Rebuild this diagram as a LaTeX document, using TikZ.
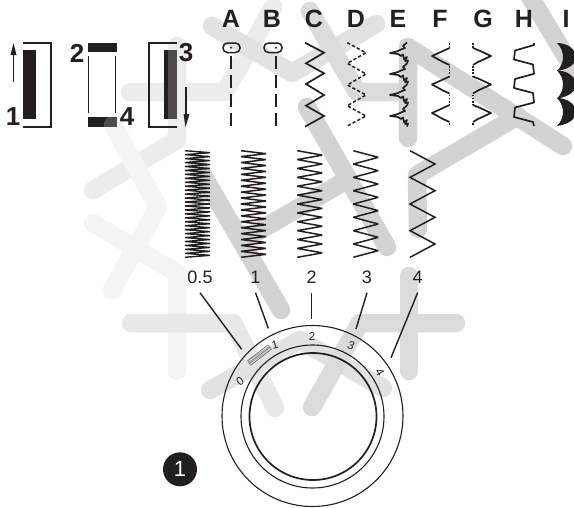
\documentclass[tikz,border=0pt]{standalone}
\usepackage{fontspec}
\setmainfont{Liberation Sans}
\definecolor{ink}{HTML}{231F20}
\definecolor{wa}{HTML}{F3F5F3}
\definecolor{wb}{HTML}{EBECEB}
\definecolor{wc}{HTML}{E2E2E2}
\definecolor{wd}{HTML}{D3D3D3}
\tikzset{
  wm/.style={line width=18.5pt,line cap=round,line join=round},
  big/.style={font=\fontsize{25}{25}\bfseries\selectfont,text=ink,inner sep=0pt},
  bigd/.style={font=\fontsize{26}{26}\bfseries\selectfont,text=ink,inner sep=0pt},
  num/.style={font=\fontsize{18}{18}\selectfont,text=ink,inner xsep=0pt,inner ysep=9.2pt},
  mini/.style={font=\fontsize{11.5}{11.5}\selectfont,text=ink,inner sep=0pt},
  thin/.style={draw=ink,line width=1.3pt},
  stitch/.style={draw=ink,line width=1.7pt,line join=miter,miter limit=3},
  soft/.style={draw=ink,line width=1.7pt,line join=round},
  conn/.style={draw=ink,line width=1.4pt},
  bar/.style={fill=ink,draw=none},
  ring/.style={draw=ink,line width=1.1pt,fill=none},
  dots/.style={draw=ink,line width=1.7pt,dash pattern=on 1.7pt off 1.5pt},
  eye/.style={draw=ink,line width=1.5pt,rounded corners=4.4pt}
}
\newcommand{\zzcol}[5]{%
  \pgfmathsetmacro{\zzh}{(#4-#3)/#5}%
  \draw[stitch,line width=#1pt] ({#2},#3)
    \foreach \i in {1,...,#5}{ -- ({#2+25},{#3+(\i-.5)*\zzh}) -- ({#2},{#3+\i*\zzh}) };
}
\begin{document}
\begin{tikzpicture}[x=1pt,y=-1pt]
\useasboundingbox (0,0) rectangle (574,507);
% watermark
\draw[wm,wb] (177,46) -- (177,140) -- (93,190);
\draw[wm,wa] (113,125) -- (158,207) -- (112,290);
\draw[wm,wa] (93,223) -- (177,273) -- (177,371);
\draw[wm,wb] (130,92) -- (225,92) -- (273,7);
\draw[wm,wc] (212,26) -- (292,73) -- (376,24);
\draw[wm,wb!60!wc] (131,323) -- (233,323) -- (275,408);
\draw[wm,wc] (210,390) -- (300,340) -- (383,388);
\draw[wm,wd] (197,165) -- (281,310);
\draw[wm,wd] (250,236) -- (340,184);
\draw[wm,wd] (307,107) -- (387,247);
\draw[wm,wc!50!wd] (310,11) -- (357,92) -- (408,92);
\draw[wm,wd] (408,138) -- (408,47) -- (563,146);
\draw[wm,wd] (418,229) -- (417,175) -- (518,116);
\draw[wm,wd] (526,-10) -- (586,90);
\draw[wm,wc!50!wd] (312,407) -- (360,323) -- (456,323);
\draw[wm,wc!50!wd] (409,276) -- (409,371);
% buttonhole blocks
\draw[thin] (23,43) -- (51,43) -- (51,127) -- (23,127);
\fill[bar] (23,50) rectangle (36,119);
\draw[ink,line width=1.6pt] (13.5,82) -- (13.5,52);
\fill[ink] (13.5,43) -- (16.5,55) -- (10.5,55) -- cycle;
\fill[bar] (87.5,42.5) rectangle (117,52);
\draw[thin] (88.5,56) -- (88.5,113);
\draw[thin] (115.7,56) -- (115.7,113);
\fill[bar] (87.5,117) rectangle (117,127);
\draw[thin] (177,43) -- (149,43) -- (149,127) -- (177,127);
\fill[bar] (163.5,50) rectangle (177,119);
\draw[ink,line width=1.6pt] (185.7,87) -- (185.7,118);
\fill[ink] (185.5,127) -- (183.5,114) -- (189.5,114) -- cycle;
\begin{scope}
\clip (163.5,50) rectangle (177,119);
\draw[wm,white,opacity=.2] (177,46) -- (177,140);
\end{scope}
\begin{scope}
\clip (87.5,117) rectangle (117,127);
\draw[wm,white,opacity=.2] (113,125) -- (158,207);
\end{scope}
\node[bigd] (n1) at (13,117) {1};
\node[bigd] (n2) at (77,53) {2};
\node[bigd] (n3) at (186,53) {3};
\node[bigd] (n4) at (127,117) {4};
% letters
\node[big] (la) at (231,19) {A};
\node[big] (lb) at (272,19) {B};
\node[big] (lc) at (314,19) {C};
\node[big] (ld) at (356,19) {D};
\node[big] (le) at (398,19) {E};
\node[big] (lf) at (440,19) {F};
\node[big] (lg) at (483,19) {G};
\node[big] (lh) at (524,19) {H};
\node[big] (li) at (566,19) {I};
% A, B
\draw[eye] (223,43) rectangle (240,52.5);
\fill[ink] (231,47.7) circle (1.2);
\draw[eye] (264,43) rectangle (282,52.5);
\fill[ink] (276,47.7) circle (1.2);
\foreach \x in {231,276}{
  \foreach \y in {56,75,94,113}{
    \draw[ink,line width=1.5pt] (\x,\y) -- (\x,\y+13);
  }
}
% C, D
\draw[stitch] (305,42.7) -- (324,52.7) -- (306,63.3) -- (324,73.3) -- (306,84) -- (324,95) -- (306,105.7) -- (324,116) -- (305,126.7);
\draw[stitch,line width=1.5pt,dash pattern=on 3.2pt off 2.2pt] (347.3,42.7) -- (366,52.7) -- (347.3,63.3) -- (366,74) -- (347.3,85) -- (366,95) -- (347.3,105.7) -- (366,116) -- (347.3,126);
% E
\foreach \c in {53,74,95,116}{
  \draw[soft] (407,\c-10.5) -- (403,\c-7) -- (405,\c-5) -- (401,\c-3.5) -- (398,\c-2) -- (390,\c) -- (398,\c+1) -- (401,\c+3) -- (403,\c+1.5) -- (404,\c+6) -- (407,\c+4) -- (405,\c+8) -- (408,\c+7.5) -- (407,\c+10.5);
}
% F, G
\foreach \c in {56,84.5,113}{
  \draw[soft] (449.5,\c-8) -- (443,\c-5) -- (432,\c) -- (443,\c+6) -- (449.5,\c+9);
  \draw[soft] (473,\c-8) -- (478,\c-6) -- (491,\c) -- (478,\c+6) -- (473,\c+9);
}
\foreach \a/\b in {43/48,66/76,94.5/105,123/126}{
  \draw[dots] (449.5,\a) -- (449.5,\b);
  \draw[dots] (473,\a) -- (473,\b);
}
% H
\draw[soft] (534,43) -- (534,45) -- (515,50.5) -- (514,59.5) -- (533,64.5) -- (534,73.8) -- (515,79) -- (514,88) -- (533,93) -- (534,102.5) -- (515,107.5) -- (514,117) -- (533,122) -- (534,126);
% I
\foreach \tp in {43,70.5,98}{
  \fill[ink] (557,\tp) .. controls (578,\tp) and (586,{\tp+24}) .. (557,{\tp+28}) .. controls (565,{\tp+20}) and (565,{\tp+8}) .. (557,\tp) -- cycle;
}
% width columns
\zzcol{1.4}{185}{150.7}{257.3}{27}
\zzcol{1.5}{241}{150.7}{257.3}{18}
\zzcol{1.5}{297.3}{150.7}{257.3}{12}
\zzcol{1.5}{353.3}{150.7}{257.3}{8}
\zzcol{1.5}{410}{150.7}{257.3}{4}
% dial
\node[circle,ring,minimum size=181pt,inner sep=0pt] (dial) at (312.5,416) {};
\node[circle,ring,minimum size=143pt,inner sep=0pt] (mid) at (312.5,416.5) {};
\node[circle,draw=ink,line width=1.7pt,minimum size=127pt,inner sep=0pt] (hub) at (313,416.5) {};
\node[mini,rotate=50,font=\fontsize{11.5}{11.5}\itshape\selectfont] (d0) at (240,381) {0};
\node[mini,rotate=15] (d1) at (275,345) {1};
\node[mini] (d2) at (312,336) {2};
\node[mini,rotate=-15,font=\fontsize{11.5}{11.5}\itshape\selectfont] (d3) at (351,345) {3};
\node[mini,rotate=-60] (d4) at (380,372) {4};
\begin{scope}[shift={(259.5,355)},rotate=38]
\foreach \x in {-12,-10.8,...,12}{
  \draw[ink!50,line width=.3pt] (\x,-2.7) -- (\x,2.7);
}
\draw[ink!80,line width=.4pt] (-13,-2.8) rectangle (13,2.8);
\draw[ink!80,line width=.3pt] (-13,0) -- (13,0);
\end{scope}
% width labels and pointers
\node[num] (w0) at (200,277) {0.5};
\node[num] (w1) at (255.5,277) {1};
\node[num] (w2) at (311.7,277) {2};
\node[num] (w3) at (367,277) {3};
\node[num] (w4) at (417.7,277) {4};
\coordinate (e0) at (241.7,349.3);
\coordinate (e1) at (268.3,328.3);
\coordinate (e2) at (311.7,319.3);
\coordinate (e3) at (356,329);
\coordinate (e4) at (391,357.7);
\draw[conn] (w0.south) -- (e0);
\draw[conn] (w1.south) -- (e1);
\draw[conn] (w2.south) -- (e2);
\draw[conn] (w3.south) -- (e3);
\draw[conn] (w4.south) -- (e4);
% badge
\node[circle,fill=ink,minimum size=34pt,inner sep=0pt,text=white,font=\fontsize{22}{22}\selectfont] (badge) at (180,469.3) {1};
\end{tikzpicture}
\end{document}
